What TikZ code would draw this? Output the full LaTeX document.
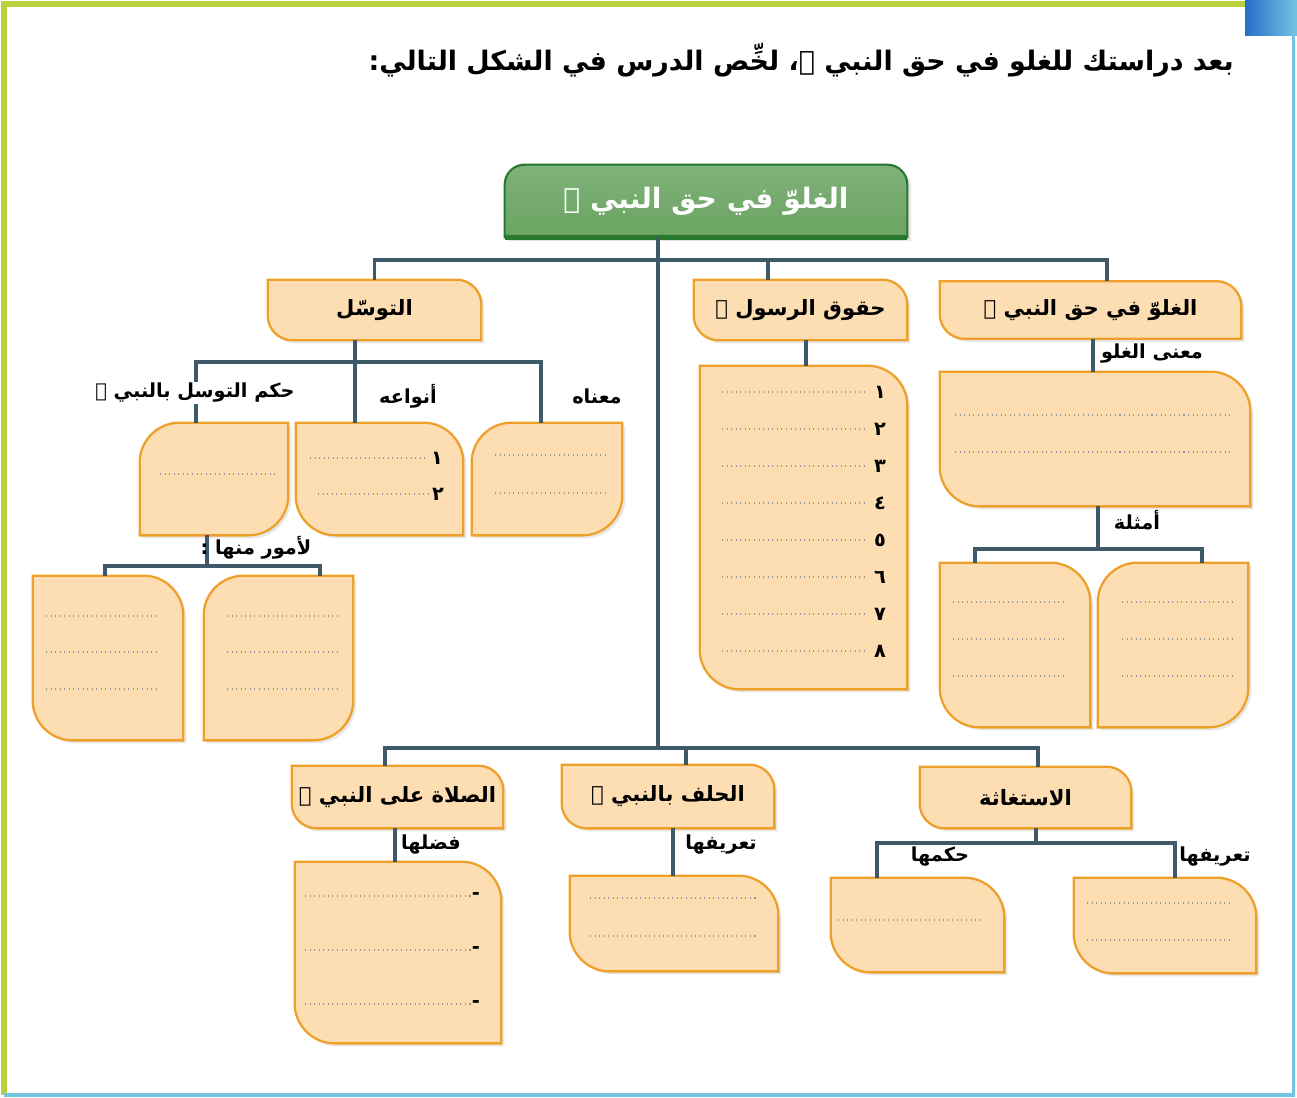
\documentclass[tikz,border=0pt]{standalone}
\usepackage{fontspec}
\newfontfamily\arabicfont[Script=Arabic]{DejaVu Sans}
\TeXXeTstate=1
\usetikzlibrary{backgrounds,shadows,calc}

\definecolor{peach}{RGB}{252,222,178}
\definecolor{edge}{RGB}{238,160,42}
\definecolor{linkc}{RGB}{62,90,104}
\definecolor{leaf}{RGB}{106,164,98}
\definecolor{leafdark}{RGB}{40,120,48}
\definecolor{lime}{RGB}{184,208,60}
\definecolor{sky}{RGB}{118,196,228}
\definecolor{deepblue}{RGB}{40,110,200}

\tikzset{
	box/.style={inner sep=0pt, font=\arabicfont\bfseries\fontsize{12}{14}\selectfont},
	card/.style={fill=peach, draw=edge, line width=1.3pt, drop shadow={opacity=0.18, shadow xshift=0.06cm, shadow yshift=-0.06cm}},
	link/.style={draw=linkc, line width=2.2pt},
	lbl/.style={font=\arabicfont\bfseries\fontsize{11}{13}\selectfont, inner sep=1pt},
	dots/.style={draw=black!40, dotted, line width=0.6pt},
	num/.style={font=\arabicfont\bfseries\fontsize{11}{13}\selectfont, inner sep=0pt},
}

% card with rounded top right and bottom left corners
\newcommand{\cardTR}[2][0.5cm]{\path[card] (#2.north west) -- ([xshift=-#1]#2.north east) arc[start angle=90, end angle=0, radius=#1] -- (#2.south east) -- ([xshift=#1]#2.south west) arc[start angle=270, end angle=180, radius=#1] -- cycle;}
% card with rounded top left and bottom right corners
\newcommand{\cardTL}[2][0.8cm]{\path[card] ([yshift=-#1]#2.north west) arc[start angle=180, end angle=90, radius=#1] -- (#2.north east) -- ([yshift=#1]#2.south east) arc[start angle=0, end angle=-90, radius=#1] -- (#2.south west) -- cycle;}

\begin{document}
\begin{tikzpicture}
	\useasboundingbox (0,0) rectangle (25.94,-21.96);

	% page frame
	\draw[lime, line width=3pt] (0.08,-21.9) -- (0.08,-0.08) -- (24.9,-0.08);
	\draw[sky, line width=2pt] (25.87,-0.7) -- (25.87,-21.9) -- (0.08,-21.9);
	\shade[left color=deepblue, right color=sky] (24.9,0) rectangle (25.94,-0.7);

	\node[anchor=east, font=\arabicfont\bfseries\fontsize{15.3}{18}\selectfont] at (24.8,-1.2) (title) {\beginR بعد دراستك للغلو في حق النبي ﷺ، لخِّص الدرس في الشكل التالي:\endR};

	% main title box
	\node[box, minimum width=8.04cm, minimum height=1.44cm, text=white, font=\arabicfont\bfseries\fontsize{16}{18}\selectfont] at (14.12,-4.02) (top) {\beginR الغلوّ في حق النبي ﷺ\endR};

	% headers
	\node[box, minimum width=4.26cm, minimum height=1.2cm] at (7.49,-6.2) (tawassul) {\beginR التوسّل\endR};
	\node[box, minimum width=4.26cm, minimum height=1.2cm] at (16.01,-6.2) (huquq) {\beginR حقوق الرسول ﷺ\endR};
	\node[box, minimum width=6.02cm, minimum height=1.14cm] at (21.81,-6.2) (ghuluw) {\beginR الغلوّ في حق النبي ﷺ\endR};
	\node[box, minimum width=4.22cm, minimum height=1.24cm] at (7.95,-15.94) (salat) {\beginR الصلاة على النبي ﷺ\endR};
	\node[box, minimum width=4.24cm, minimum height=1.26cm] at (13.36,-15.93) (half) {\beginR الحلف بالنبي ﷺ\endR};
	\node[box, minimum width=4.22cm, minimum height=1.22cm] at (20.51,-15.95) (istighatha) {\beginR الاستغاثة\endR};

	% answer boxes
	\node[box, minimum width=6.2cm, minimum height=2.68cm] at (21.9,-8.78) (meaning) {};
	\node[box, minimum width=3cm, minimum height=3.28cm] at (20.3,-12.9) (exL) {};
	\node[box, minimum width=3cm, minimum height=3.28cm] at (23.46,-12.9) (exR) {};
	\node[box, minimum width=4.14cm, minimum height=6.46cm] at (16.07,-10.55) (list) {};
	\node[box, minimum width=3cm, minimum height=2.24cm] at (10.94,-9.58) (maanah) {};
	\node[box, minimum width=3.34cm, minimum height=2.24cm] at (7.59,-9.58) (anwa) {};
	\node[box, minimum width=2.96cm, minimum height=2.24cm] at (4.28,-9.58) (hukm) {};
	\node[box, minimum width=3cm, minimum height=3.28cm] at (2.16,-13.16) (umurL) {};
	\node[box, minimum width=2.98cm, minimum height=3.28cm] at (5.57,-13.16) (umurR) {};
	\node[box, minimum width=4.12cm, minimum height=3.62cm] at (7.96,-19.05) (fadl) {};
	\node[box, minimum width=4.16cm, minimum height=1.9cm] at (13.48,-18.47) (hdef) {};
	\node[box, minimum width=3.46cm, minimum height=1.88cm] at (18.35,-18.5) (irule) {};
	\node[box, minimum width=3.64cm, minimum height=1.9cm] at (23.3,-18.51) (idef) {};

	\begin{scope}[on background layer]
		\fill[white] (0,0) rectangle (25.94,-21.96);
		\path[top color=leaf!85!white, bottom color=leaf, draw=leafdark, line width=1.2pt, drop shadow={opacity=0.2}] (top.south west) -- ([yshift=-0.4cm]top.north west) arc[start angle=180, end angle=90, radius=0.4cm] -- ([xshift=-0.4cm]top.north east) arc[start angle=90, end angle=0, radius=0.4cm] -- (top.south east) -- cycle;
		\draw[leafdark, line width=2.5pt] (top.south west) -- (top.south east);
		\cardTR{tawassul}
		\cardTR{huquq}
		\cardTR{ghuluw}
		\cardTR{salat}
		\cardTR{half}
		\cardTR{istighatha}
		\cardTR[0.8cm]{meaning}
		\cardTR[0.8cm]{exL}
		\cardTL{exR}
		\cardTR[0.8cm]{list}
		\cardTL{maanah}
		\cardTR[0.8cm]{anwa}
		\cardTL{hukm}
		\cardTR[0.8cm]{umurL}
		\cardTL{umurR}
		\cardTR[0.8cm]{fadl}
		\cardTR[0.8cm]{hdef}
		\cardTR[0.8cm]{irule}
		\cardTR[0.8cm]{idef}
	\end{scope}

	% connectors
	\coordinate (bar1) at (0,-5.2);
	\coordinate (bar2) at (0,-14.96);
	\coordinate (trunk) at ([xshift=-0.96cm]top.south);
	\coordinate (gtop) at ([xshift=0.33cm]ghuluw.north);
	\coordinate (qtop) at ([xshift=-0.65cm]huquq.north);
	\draw[link] (tawassul.north) -- ++(0,0.4) -| (gtop);
	\draw[link] (qtop) -- (qtop |- bar1);
	\draw[link] (trunk) -- (trunk |- bar2);

	\coordinate (stop) at ([xshift=-0.25cm]salat.north);
	\coordinate (ftop) at ([xshift=0.36cm]half.north);
	\coordinate (itop) at ([xshift=0.25cm]istighatha.north);
	\draw[link] (stop) |- (itop |- bar2) -- (itop);
	\draw[link] (ftop) -- (ftop |- bar2);

	\coordinate (tbot) at ([xshift=-0.39cm]tawassul.south);
	\coordinate (hkt) at ([xshift=-0.36cm]hukm.north);
	\coordinate (ant) at ([xshift=-0.49cm]anwa.north);
	\coordinate (mnt) at ([xshift=-0.12cm]maanah.north);
	\draw[link] (tbot) -- ++(0,-0.44) coordinate (bar3);
	\draw[link] (hkt) |- (mnt |- bar3) -- (mnt);
	\draw[link] (ant) -- (ant |- bar3);

	\coordinate (hkb) at ([xshift=-0.14cm]hukm.south);
	\coordinate (ult) at ([xshift=-0.06cm]umurL.north);
	\coordinate (urt) at ([xshift=0.83cm]umurR.north);
	\draw[link] (hkb) -- ++(0,-0.62) coordinate (bar4);
	\draw[link] (ult) |- (urt |- bar4) -- (urt);

	\coordinate (qbot) at ([xshift=0.11cm]huquq.south);
	\draw[link] (qbot) -- (qbot |- list.north);

	\coordinate (gbot) at ([xshift=0.05cm]ghuluw.south);
	\draw[link] (gbot) -- (gbot |- meaning.north);
	\coordinate (mbot) at ([xshift=0.06cm]meaning.south);
	\coordinate (elt) at ([xshift=-0.8cm]exL.north);
	\coordinate (ert) at ([xshift=0.58cm]exR.north);
	\draw[link] (mbot) -- ++(0,-0.86) coordinate (bar5);
	\draw[link] (elt) |- (ert |- bar5) -- (ert);

	\coordinate (sbot) at ([xshift=-0.05cm]salat.south);
	\draw[link] (sbot) -- (sbot |- fadl.north);
	\coordinate (fbot) at ([xshift=0.1cm]half.south);
	\draw[link] (fbot) -- (fbot |- hdef.north);
	\coordinate (ibot) at ([xshift=0.21cm]istighatha.south);
	\coordinate (irt) at ([xshift=-0.81cm]irule.north);
	\coordinate (idt) at ([xshift=0.2cm]idef.north);
	\draw[link] (ibot) -- ++(0,-0.3) coordinate (bar6);
	\draw[link] (irt) |- (idt |- bar6) -- (idt);

	% labels
	\node[lbl] at (23.04,-7.08) (lmeaning) {\beginR معنى الغلو\endR};
	\node[lbl] at (22.74,-10.4) (lex) {\beginR أمثلة\endR};
	\node[lbl] at (11.94,-7.92) (lmaanah) {\beginR معناه\endR};
	\node[lbl] at (8.16,-7.92) (lanwa) {\beginR أنواعه\endR};
	\node[lbl, fill=white] at (3.9,-7.86) (lhukm) {\beginR حكم التوسل بالنبي ﷺ\endR};
	\node[lbl] at (5.12,-10.96) (lumur) {\beginR لأمور منها :\endR};
	\node[lbl] at (8.62,-16.9) (lfadl) {\beginR فضلها\endR};
	\node[lbl] at (14.42,-16.9) (lhdef) {\beginR تعريفها\endR};
	\node[lbl] at (18.8,-17.14) (lirule) {\beginR حكمها\endR};
	\node[lbl] at (24.3,-17.14) (lidef) {\beginR تعريفها\endR};

	% writing lines
	\draw[dots] (19.1,-8.3) -- (24.64,-8.3);
	\draw[dots] (19.1,-9.04) -- (24.64,-9.04);
	\foreach \y in {-12.04,-12.78,-13.52} {
		\draw[dots] (19.06,\y) -- (21.34,\y);
		\draw[dots] (22.44,\y) -- (24.72,\y);
	}
	\foreach \n [count=\i] in {١,٢,٣,٤,٥,٦,٧,٨} {
		\draw[dots] (14.44,-7.84-0.74*\i+0.74) -- (17.36,-7.84-0.74*\i+0.74);
		\node[num] at (17.6,-7.84-0.74*\i+0.74) (item\i) {\beginR\n\endR};
	}
	\draw[dots] (9.9,-9.1) -- (12.18,-9.1);
	\draw[dots] (9.9,-9.86) -- (12.18,-9.86);
	\draw[dots] (6.2,-9.16) -- (8.52,-9.16);
	\draw[dots] (6.36,-9.88) -- (8.56,-9.88);
	\node[num] at (8.74,-9.16) (kind1) {\beginR ١\endR};
	\node[num] at (8.76,-9.88) (kind2) {\beginR ٢\endR};
	\draw[dots] (3.2,-9.48) -- (5.5,-9.48);
	\foreach \y in {-12.32,-13.04,-13.78} {
		\draw[dots] (0.92,\y) -- (3.2,\y);
		\draw[dots] (4.54,\y) -- (6.82,\y);
	}
	\foreach \y [count=\i] in {-17.92,-19.0,-20.08} {
		\draw[dots] (6.1,\y) -- (9.42,\y);
		\node[num] at (9.52,\y) (dash\i) {-};
	}
	\draw[dots] (11.8,-17.96) -- (15.14,-17.96);
	\draw[dots] (11.8,-18.72) -- (15.14,-18.72);
	\draw[dots] (16.76,-18.4) -- (19.64,-18.4);
	\draw[dots] (21.74,-18.06) -- (24.66,-18.06);
	\draw[dots] (21.74,-18.8) -- (24.66,-18.8);
\end{tikzpicture}
\end{document}
